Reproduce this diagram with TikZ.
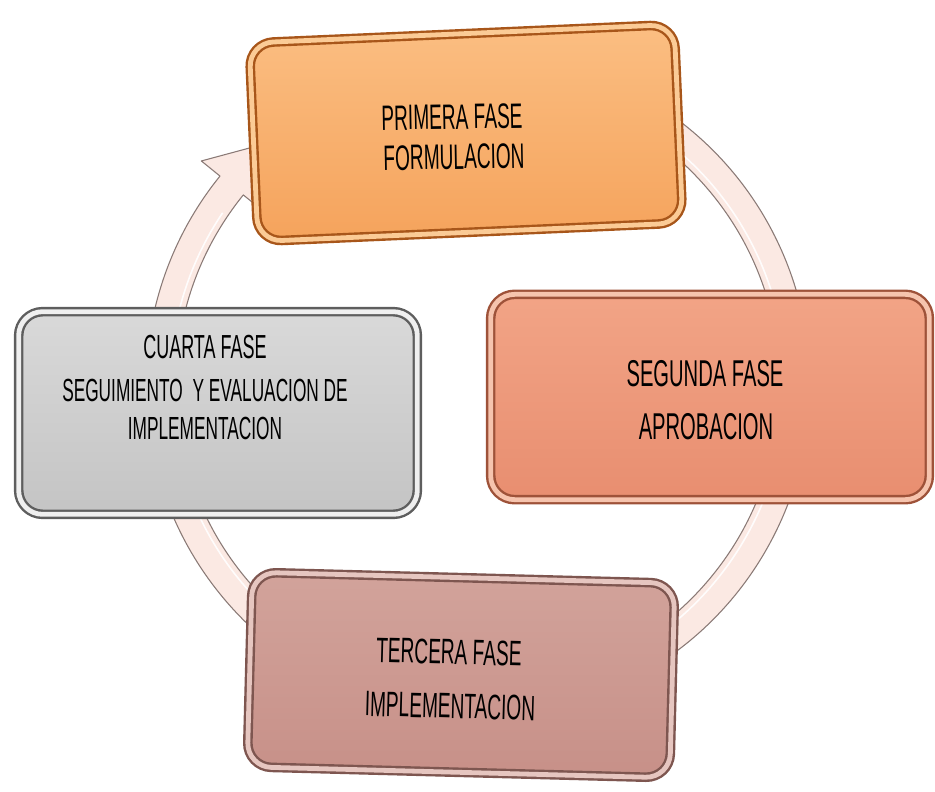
\documentclass[tikz,border=0pt]{standalone}
\usepackage{fontspec}
\newfontfamily\agency[FakeStretch=0.54]{Liberation Sans}
\usetikzlibrary{shadows}
\definecolor{ringfill}{HTML}{FBE9E3}
\definecolor{ringline}{HTML}{8A7A76}
\definecolor{orA}{HTML}{FBBE82}
\definecolor{orB}{HTML}{F5A35C}
\definecolor{orRim}{HTML}{A8561A}
\definecolor{orHi}{HTML}{FBCB96}
\definecolor{saA}{HTML}{F2A486}
\definecolor{saB}{HTML}{E88E70}
\definecolor{saRim}{HTML}{9E5239}
\definecolor{saHi}{HTML}{F6C4AE}
\definecolor{piA}{HTML}{D2A39B}
\definecolor{piB}{HTML}{C79088}
\definecolor{piRim}{HTML}{7E5650}
\definecolor{piHi}{HTML}{E6C6C0}
\definecolor{grA}{HTML}{D9D9D9}
\definecolor{grB}{HTML}{C4C4C4}
\definecolor{grRim}{HTML}{5E5E5E}
\definecolor{grHi}{HTML}{EFEFEF}
\tikzset{
  ringstyle/.style={fill=ringfill, draw=ringline, line width=0.8pt, line join=round},
  phasebox/.style n args={4}{draw=#1, double=#2, line width=1.8pt, double distance=3.6pt,
     top color=#3, bottom color=#4, rounded corners=18pt, inner sep=0pt,
     drop shadow={shadow xshift=2.5pt, shadow yshift=-2.5pt, opacity=0.45, fill=black!70}},
  phasetext/.style={font=\agency, text=black, inner sep=0pt}
}
\begin{document}
\begin{tikzpicture}[x=0.75pt,y=-0.75pt]
\path[use as bounding box] (0,0) rectangle (935,792);
% circular arrow
\begin{scope}[shift={(478,385)}]
\draw[ringstyle] (-62:332) arc[start angle=-62,end angle=219,radius=332]
   -- (219:356) -- (232:313) -- (219:279) -- (219:302)
   arc[start angle=219,end angle=-62,radius=302] -- cycle;
\draw[white, line width=1.2pt, opacity=0.9] (-58:308) arc[start angle=-58,end angle=214,radius=308];
\end{scope}
% boxes
\node[phasebox={orRim}{orHi}{orA}{orB}, minimum width=319pt, minimum height=149pt, rotate=2.5] (b1) at (466,133) {};
\node[phasebox={saRim}{saHi}{saA}{saB}, minimum width=329pt, minimum height=154pt] (b2) at (710,397) {};
\node[phasebox={piRim}{piHi}{piA}{piB}, minimum width=317pt, minimum height=146pt, rotate=-1.5] (b3) at (461,675) {};
\node[phasebox={grRim}{grHi}{grA}{grB}, minimum width=299pt, minimum height=152pt] (b4) at (218,413) {};
% texts
\node[phasetext, font=\agency\fontsize{26.5pt}{26.5pt}\selectfont, rotate=1] (t1a) at (452,117) {PRIMERA FASE};
\node[phasetext, font=\agency\fontsize{26.5pt}{26.5pt}\selectfont, rotate=1] (t1b) at (454,157) {FORMULACION};
\node[phasetext, font=\agency\fontsize{28pt}{28pt}\selectfont] (t2a) at (705,374) {SEGUNDA FASE};
\node[phasetext, font=\agency\fontsize{28pt}{28pt}\selectfont] (t2b) at (706,427) {APROBACION};
\node[phasetext, font=\agency\fontsize{26.5pt}{26.5pt}\selectfont, rotate=-1.5] (t3a) at (449,652) {TERCERA FASE};
\node[phasetext, font=\agency\fontsize{26.5pt}{26.5pt}\selectfont, rotate=-1.5] (t3b) at (450,706) {IMPLEMENTACION};
\node[phasetext, font=\agency\fontsize{25pt}{25pt}\selectfont] (t4a) at (205,347) {CUARTA FASE};
\node[phasetext, font=\agency\fontsize{24pt}{24pt}\selectfont] (t4b) at (205,390) {SEGUIMIENTO\ \ Y EVALUACION DE};
\node[phasetext, font=\agency\fontsize{24pt}{24pt}\selectfont] (t4c) at (205,428) {IMPLEMENTACION};
\end{tikzpicture}
\end{document}
